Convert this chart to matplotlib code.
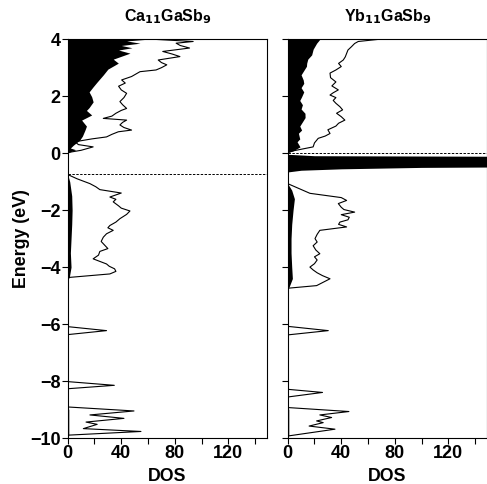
import numpy as np
import matplotlib
matplotlib.use("Agg")
import matplotlib.pyplot as plt

plt.rcParams["font.family"] = ["Liberation Sans", "DejaVu Sans"]
plt.rcParams["font.weight"] = "bold"

# ---------------- Ca11GaSb9 ----------------
# total DOS (outline)
ca_tot_E = [-10.0, -9.90, -9.77, -9.67, -9.52, -9.44, -9.31, -9.19, -9.05, -8.91,
            -8.27, -8.15, -8.02, -6.37, -6.23, -6.09,
            -4.40, -4.36, -4.24, -4.15, -4.06, -3.97, -3.89, -3.80, -3.71, -3.58,
            -3.45, -3.35, -3.24, -3.10, -2.95, -2.83, -2.71, -2.62, -2.54, -2.42,
            -2.30, -2.15, -2.03, -1.93, -1.85, -1.71, -1.62, -1.54, -1.40, -1.28,
            -1.18, -1.07, -0.90, -0.75,
            0.02, 0.10, 0.22, 0.30, 0.40, 0.50, 0.57, 0.66, 0.75, 0.81, 0.90, 0.99,
            1.08, 1.16, 1.22, 1.30, 1.40, 1.50, 1.57, 1.70, 1.81, 1.95, 2.10, 2.22,
            2.35, 2.46, 2.57, 2.69, 2.86, 2.92, 3.00, 3.10, 3.18, 3.27, 3.39, 3.48,
            3.57, 3.69, 3.78, 3.86, 3.92, 4.0, 4.1]
ca_tot_D = [0, 0, 54.7, 11.7, 22, 13.7, 42, 16.6, 49.5, 0,
            0, 34.8, 0, 0, 29, 0,
            0, 1.7, 31.5, 36, 35, 31, 29, 24, 19, 23,
            24, 30, 27.8, 25, 26.6, 29, 34, 30, 31.5, 36,
            39, 44, 46.5, 40, 38, 34, 36, 31.5, 40, 24,
            21, 16.6, 7, 0,
            0, 10, 19, 8, 5.4, 18, 29, 33, 37.8, 47.7, 42, 39,
            41, 44, 26.6, 33, 36, 40, 44, 41, 39, 42, 44, 40,
            38, 43, 40.3, 47.7, 54, 66, 70, 74, 70, 67.6, 83.8, 78,
            71, 91, 84, 81, 93.7, 63, 60]
# partial DOS (filled black)
ca_part_E = [-10.0, -9.9, -9.6, -9.3, -9.0, -8.9,
             -4.42, -4.35, -4.0, -3.5, -3.0, -2.5, -2.0, -1.5, -1.0, -0.75,
             0.0, 0.05, 0.12, 0.18, 0.28, 0.46, 0.60, 0.81, 0.95, 1.16, 1.34, 1.50,
             1.60, 1.80, 1.98, 2.15, 2.33, 2.50, 2.75, 2.95, 3.16, 3.30, 3.51, 3.62,
             3.70, 3.78, 3.86, 3.94, 4.0, 4.1]
ca_part_D = [0, 0.8, 0.8, 0.8, 0.8, 0,
             0, 1.2, 2.5, 2, 2.5, 3, 3.3, 3, 1.5, 0,
             0, 2, 6, 2, 4.2, 9, 11, 12.9, 14, 10.4, 17.9, 14,
             16, 19, 17.9, 16, 19, 22, 26.6, 30, 37.8, 34, 46.5, 38,
             48, 40, 54, 44, 60, 60]
ca_gap = -0.72

# ---------------- Yb11GaSb9 ----------------
yb_tot_E = [-10.0, -9.93, -9.69, -9.58, -9.46, -9.40, -9.28, -9.19, -9.07, -8.93,
            -8.56, -8.40, -8.29, -6.38, -6.23, -6.08,
            -4.76, -4.74, -4.65, -4.41, -4.30, -4.20, -4.10, -4.00, -3.88, -3.75,
            -3.64, -3.53, -3.40, -3.25, -3.12, -3.00, -2.85, -2.71, -2.59, -2.50,
            -2.42, -2.34, -2.25, -2.16, -2.07, -1.98, -1.90, -1.77, -1.66, -1.56,
            -1.41, -1.07,
            0.02, 0.08, 0.22, 0.36, 0.52, 0.60, 0.69, 0.82, 0.95, 1.05, 1.16, 1.28,
            1.40, 1.52, 1.63, 1.75, 1.85, 1.95, 2.04, 2.12, 2.22, 2.36, 2.50, 2.65,
            2.81, 2.92, 3.04, 3.15, 3.27, 3.38, 3.50, 3.62, 3.74, 3.85, 3.92, 4.0, 4.1]
yb_tot_D = [0, 0, 35.3, 16, 26.5, 21.6, 32.8, 24, 45.7, 0,
            0, 26, 0, 0, 30.3, 0,
            0, 0.5, 21.6, 31.6, 26, 22, 19, 16.6, 20, 22,
            20, 24, 21, 19, 22, 20.4, 22, 24, 44, 38,
            39, 45, 46, 40, 50, 42, 40, 37.8, 44, 40,
            16.6, 0,
            0, 4, 19, 20, 22.8, 28, 31.6, 30, 36, 38, 42.7, 40,
            36.5, 41, 39, 36, 34, 36, 31.6, 34, 37.8, 33, 36, 32,
            31.6, 36, 40, 38, 41.5, 43, 44, 45, 47.7, 50, 52.7, 69, 80]
yb_part_E = [-10.0, -9.9, -9.6, -9.3, -9.0, -8.9,
             -4.78, -4.70, -4.40, -4.00, -3.50, -3.00, -2.50, -2.00, -1.60, -1.30, -1.07,
             -0.66, -0.60, -0.55, -0.50, -0.45, -0.13, -0.09, -0.04,
             0.02, 0.08, 0.22, 0.40, 0.50, 0.70, 0.81, 0.95, 1.10, 1.25, 1.40, 1.55,
             1.70, 1.85, 1.98, 2.15, 2.30, 2.45, 2.57, 2.75, 2.90, 3.05, 3.16, 3.30,
             3.45, 3.65, 3.86, 3.94, 4.0, 4.1]
yb_part_D = [0, 0.8, 0.8, 0.8, 0.8, 0,
             0, 1, 3.5, 3, 2.5, 2.5, 3, 4, 5, 3, 0,
             0, 10, 40, 100, 300, 300, 20, 0,
             0, 4, 9.2, 7, 9, 8, 10.4, 9, 11, 13, 12.9, 10,
             11, 9, 10.4, 12, 10, 12, 11.6, 10, 12, 14, 14.2, 15,
             17.9, 19, 21.6, 23, 24, 24]
yb_gap = 0.0

panels = [("Ca$_{11}$GaSb$_9$", ca_tot_E, ca_tot_D, ca_part_E, ca_part_D, ca_gap),
          ("Yb$_{11}$GaSb$_9$", yb_tot_E, yb_tot_D, yb_part_E, yb_part_D, yb_gap)]

fig = plt.figure(figsize=(4.87, 4.84), dpi=100)
lefts = [67.7 / 487, 287.7 / 487]
for i, (title, tE, tD, pE, pD, gap) in enumerate(panels):
    ax = fig.add_axes([lefts[i], 0.095, 199.5 / 487, 0.824])
    ax.fill_betweenx(pE, 0, pD, color="black", linewidth=0)
    ax.plot(tD, tE, color="black", linewidth=0.8)
    ax.axhline(gap, color="black", linestyle=(0, (2.5, 1.5)), linewidth=0.7)
    ax.set_xlim(0, 149)
    ax.set_ylim(-10, 4)
    ax.set_xticks([0, 40, 80, 120])
    ax.set_xticks([20, 60, 100, 140], minor=True)
    ax.set_yticks(np.arange(-10, 5, 2))
    ax.tick_params(direction="out", length=4, width=0.8, labelsize=13, pad=1)
    ax.tick_params(which="minor", direction="out", length=4, width=0.8)
    ax.set_xticklabels(["0", "40", "80", "120"], fontweight="bold")
    if i == 0:
        ax.set_yticklabels(["\u221210", "\u22128", "\u22126", "\u22124", "\u22122", "0", "2", "4"],
                           fontweight="bold")
        ax.set_ylabel("Energy (eV)", fontsize=12.8, fontweight="bold", labelpad=0)
    else:
        ax.set_yticklabels([])
    ax.set_xlabel("DOS", fontsize=12.8, fontweight="bold", labelpad=4)
    ax.set_title(title, fontsize=11.5, fontweight="bold", pad=13)
    for s in ax.spines.values():
        s.set_linewidth(0.8)

plt.savefig("out.png", dpi=100)
